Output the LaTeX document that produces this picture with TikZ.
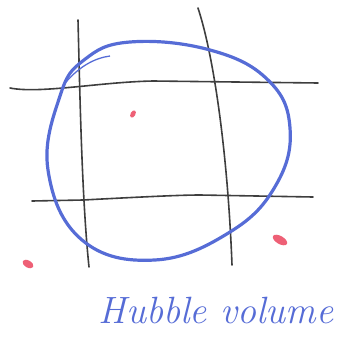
\documentclass[tikz,border=0pt]{standalone}
\usepackage{tikz}
\definecolor{hbblue}{RGB}{86,108,214}
\definecolor{hbgray}{RGB}{62,62,62}
\definecolor{hbred}{RGB}{238,96,118}
\usetikzlibrary{calc}

\begin{document}
\begin{tikzpicture}[x=1pt, y=-1pt,
    gridline/.style={hbgray, line width=1.6pt, line cap=round},
    hubble/.style={hbblue, line width=3.2pt, line cap=round},
    galaxy/.style={fill=hbred, draw=none}]
  \useasboundingbox (0,0) rectangle (344,337);

  % Comoving grid
  \draw[gridline] (78,20) .. controls (80,100) and (82,200) .. (89,267);
  \draw[gridline] (198,8) .. controls (215,60) and (228,160) .. (232,265);
  \draw[gridline] (10,88) .. controls (40,94) and (100,82) .. (153,81) -- (318,83);
  \draw[gridline] (32,201) -- (83,200) .. controls (140,197) and (180,195) .. (200,195) -- (313,197);

  % Hubble sphere
  \draw[hubble] plot[smooth cycle, tension=0.7] coordinates {
    (130,42) (210,50) (268,80) (290,128) (276,185) (230,232) (155,260)
    (82,240) (48,170) (60,96) (84,60)};
  \draw[hbblue, line width=1.3pt] (66,82) .. controls (80,66) and (95,58) .. (110,56);

  % Galaxies
  \fill[galaxy, rotate around={60:(133,114)}] (133,114) ellipse (4pt and 2.4pt);
  \fill[galaxy, rotate around={-30:(280,240)}] (280,240) ellipse (8pt and 4pt);
  \fill[galaxy, rotate around={-30:(28,264)}] (28,264) ellipse (6pt and 3.5pt);

  % Label
  \node[text=hbblue, font=\fontsize{38}{38}\selectfont\itshape, anchor=base] (label) at (216,323) {Hubble volume};
\end{tikzpicture}
\end{document}
